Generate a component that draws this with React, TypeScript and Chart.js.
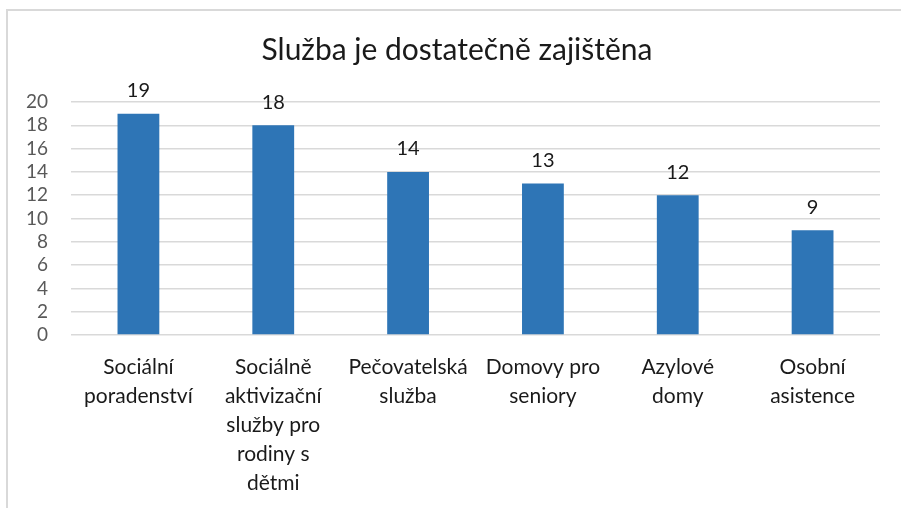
import React, { useEffect, useRef } from "react";
import { Chart, registerables } from "chart.js";

Chart.register(...registerables);

const categories: string[][] = [
  ["Sociální", "poradenství"],
  ["Sociálně", "aktivizační", "služby pro", "rodiny s", "dětmi"],
  ["Pečovatelská", "služba"],
  ["Domovy pro", "seniory"],
  ["Azylové", "domy"],
  ["Osobní", "asistence"],
];
const values: number[] = [19, 18, 14, 13, 12, 9];
const titleText = "Služba je dostatečně zajištěna";
const yMin = 0;
const yMax = 20;
const yStep = 2;

const FONT = "Lato";

const dataLabels = {
  id: "dataLabels",
  afterDatasetsDraw(chart: any) {
    const ctx = chart.ctx;
    const meta = chart.getDatasetMeta(0);
    ctx.save();
    ctx.font = `20px ${FONT}`;
    ctx.fillStyle = "#1a1a1a";
    ctx.textAlign = "center";
    ctx.textBaseline = "middle";
    meta.data.forEach((bar: any, i: number) => {
      ctx.fillText(String(values[i]), bar.x, bar.y - 23);
    });
    ctx.restore();
  },
};

const chartTitle = {
  id: "chartTitle",
  afterDraw(chart: any) {
    const ctx = chart.ctx;
    ctx.save();
    ctx.font = `30px ${FONT}`;
    ctx.fillStyle = "#1a1a1a";
    ctx.textAlign = "center";
    ctx.textBaseline = "middle";
    ctx.fillText(titleText, 457, 50);
    ctx.restore();
  },
};

export default function App() {
  const ref = useRef<HTMLCanvasElement | null>(null);
  useEffect(() => {
    if (!ref.current) return;
    const chart = new Chart(ref.current, {
      type: "bar",
      data: {
        labels: categories,
        datasets: [
          {
            data: values,
            backgroundColor: "#2E75B6",
            borderWidth: 0,
            barPercentage: 0.31,
            categoryPercentage: 1,
          },
        ],
      },
      options: {
        animation: false,
        responsive: false,
        maintainAspectRatio: false,
        layout: { padding: { left: 10, right: 21, top: 102, bottom: 0 } },
        plugins: {
          legend: { display: false },
          tooltip: { enabled: false },
          title: { display: false },
        },
        scales: {
          x: {
            grid: { display: false, drawTicks: false },
            border: { display: false },
            ticks: {
              color: "#1a1a1a",
              font: { family: FONT, size: 21, lineHeight: 29 / 21 },
              padding: 18,
              maxRotation: 0,
              minRotation: 0,
              autoSkip: false,
            },
            afterFit(scale: any) {
              scale.height = 173;
            },
          },
          y: {
            min: yMin,
            max: yMax,
            grid: { color: "#d9d9d9", lineWidth: 1.5, drawTicks: false },
            border: { display: false },
            ticks: {
              stepSize: yStep,
              autoSkip: false,
              color: "#595959",
              font: { family: FONT, size: 19 },
              padding: 23,
            },
            afterFit(scale: any) {
              scale.width = 61;
            },
          },
        },
      },
      plugins: [dataLabels, chartTitle],
    });
    return () => chart.destroy();
  }, []);
  return (
    <div
      style={{
        position: "fixed",
        left: 0,
        top: 0,
        width: 901,
        height: 508,
        background: "#fff",
        overflow: "hidden",
      }}
    >
      <div
        style={{
          position: "absolute",
          left: 6,
          top: 9,
          width: 1000,
          height: 1000,
          border: "2px solid #d9d9d9",
        }}
      />
      <canvas
        ref={ref}
        width={901}
        height={508}
        style={{ position: "absolute", left: 0, top: 0 }}
      />
    </div>
  );
}
